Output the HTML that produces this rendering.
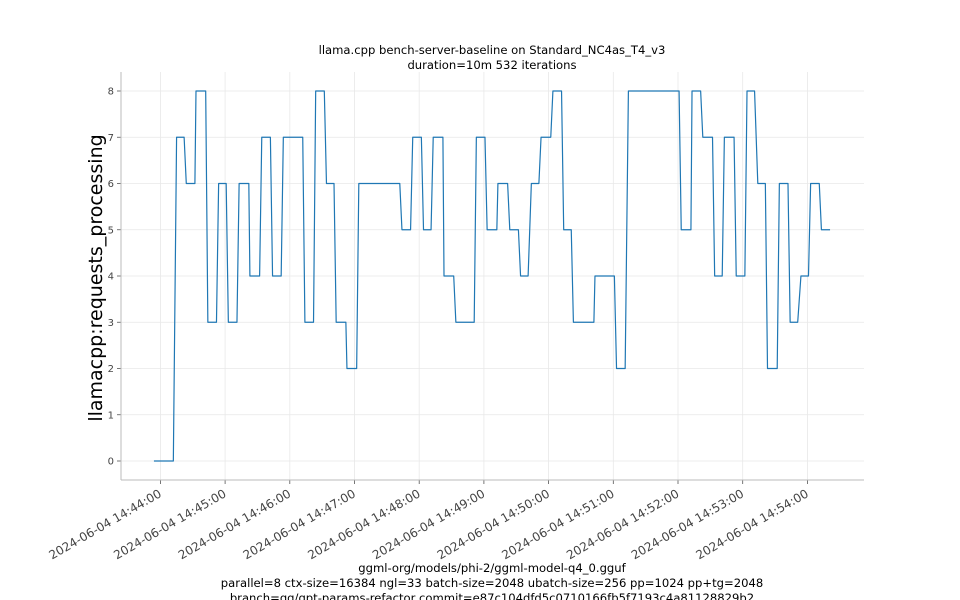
<!DOCTYPE html>
<html><head><meta charset="utf-8"><style>
html,body{margin:0;padding:0;background:#fff;}
svg{display:block;font-family:"DejaVu Sans","Liberation Sans",sans-serif;}
</style></head><body>
<svg id="chart" width="960" height="600" viewBox="0 0 960 600" xmlns="http://www.w3.org/2000/svg">
<g id="grid"></g>
<g id="axes"></g>
<g id="series"></g>
<text x="492" y="54" font-size="11.6" text-anchor="middle" fill="#000">llama.cpp bench-server-baseline on Standard_NC4as_T4_v3</text>
<text x="492" y="69" font-size="11.6" text-anchor="middle" fill="#000">duration=10m 532 iterations</text>
<text x="0" y="0" font-size="19" text-anchor="middle" fill="#000" transform="translate(102,278) rotate(-90)">llamacpp:requests_processing</text>
<text x="492" y="572" font-size="11.6" text-anchor="middle" fill="#000">ggml-org/models/phi-2/ggml-model-q4_0.gguf</text>
<text x="492" y="587" font-size="11.6" text-anchor="middle" fill="#000">parallel=8 ctx-size=16384 ngl=33 batch-size=2048 ubatch-size=256 pp=1024 pp+tg=2048</text>
<text x="492" y="602" font-size="11.6" text-anchor="middle" fill="#000">branch=gg/gpt-params-refactor commit=e87c104dfd5c0710166fb5f7193c4a81128829b2</text>
</svg>
<script>
// seconds since 2024-06-04 14:44:00
const segStart = [-6,15,24,33,44,54,63,73,83,94,104,114,134,144,154,163,173,184,224,234,244,253,263,274,293,303,313,324,334,344,353,364,374,383,403,423,434,483,493,503,514,523,534,544,554,563,574,584,594,603,613];
const segEnd   = [12,22,32,42,52,61,71,82,92,102,112,132,142,152,161,172,182,222,232,242,251,262,272,291,301,312,322,332,341,351,362,372,381,402,421,431,481,492,501,512,521,532,542,551,561,572,582,591,601,611,621];
const segValue = [0,7,6,8,3,6,3,6,4,7,4,7,3,8,6,3,2,6,5,7,5,7,4,3,7,5,6,5,4,6,7,8,5,3,4,2,8,5,8,7,4,7,4,8,6,2,6,3,4,6,5];
const yTicks = [0,1,2,3,4,5,6,7,8];
const xTickMinutes = [0,1,2,3,4,5,6,7,8,9,10];
const xTickLabels = ["2024-06-04 14:44:00","2024-06-04 14:45:00","2024-06-04 14:46:00","2024-06-04 14:47:00","2024-06-04 14:48:00","2024-06-04 14:49:00","2024-06-04 14:50:00","2024-06-04 14:51:00","2024-06-04 14:52:00","2024-06-04 14:53:00","2024-06-04 14:54:00"];

const NS="http://www.w3.org/2000/svg";
const L=121,R=864,T=72,B=480;
const xs=t=>160.4+t*(64.7/60);
const ys=v=>461-v*46.25;
function mk(tag,attrs,parent){const e=document.createElementNS(NS,tag);for(const k in attrs)e.setAttribute(k,attrs[k]);parent.appendChild(e);return e;}
const grid=document.getElementById('grid'),axes=document.getElementById('axes'),series=document.getElementById('series');

yTicks.forEach(v=>{
  const y=ys(v);
  const g=mk('line',{x1:L,x2:R,y1:y,y2:y,stroke:'#e8e8e8','stroke-width':0.8},grid);
  
  
  const tk=mk('line',{x1:L-4,x2:L,y1:y,y2:y,stroke:'#555','stroke-width':0.8},axes);
  
  
  const tx=mk('text',{x:L-7,y:y+3.5,'font-size':10,'text-anchor':'end',fill:'#444'},axes);
  tx.textContent=String(v);
  
  
});
xTickMinutes.forEach((m,i)=>{
  const x=xs(m*60);
  const g=mk('line',{x1:x,x2:x,y1:T,y2:B,stroke:'#e8e8e8','stroke-width':0.8},grid);
  
  
  const tk=mk('line',{x1:x,x2:x,y1:B,y2:B+4,stroke:'#555','stroke-width':0.8},axes);
  
  
  const tx=mk('text',{x:0,y:0,'font-size':12,'text-anchor':'end',fill:'#444',transform:`translate(${x+2},${B+16}) rotate(-30)`},axes);
  tx.textContent=xTickLabels[i];
  
  
});
const ls=mk('line',{x1:L,x2:L,y1:T,y2:B,stroke:'#bbb','stroke-width':1},axes);


const bs=mk('line',{x1:L,x2:R,y1:B,y2:B,stroke:'#bbb','stroke-width':1},axes);



let pts=[];
for(let i=0;i<segStart.length;i++){
  pts.push(xs(segStart[i]).toFixed(2)+','+ys(segValue[i]).toFixed(2));
  pts.push(xs(segEnd[i]).toFixed(2)+','+ys(segValue[i]).toFixed(2));
}
const pl=mk('polyline',{points:pts.join(' '),fill:'none',stroke:'#1f77b4','stroke-width':1.2,'stroke-linejoin':'round'},series);


</script>
</body></html>
